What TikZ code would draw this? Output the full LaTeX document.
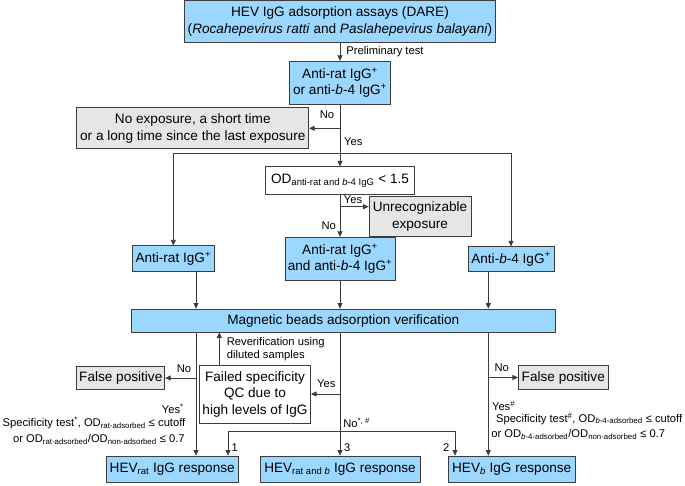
\documentclass[tikz,border=0pt]{standalone}
\usepackage{fontspec}
\setmainfont{Liberation Sans}
\usepackage{tikz}
\usetikzlibrary{arrows.meta,positioning}
\definecolor{boxblue}{RGB}{155,215,255}
\definecolor{boxgray}{RGB}{230,230,230}
\definecolor{edgegray}{RGB}{60,60,60}

\begin{document}
\begin{tikzpicture}[x=1pt,y=-1pt,>={Triangle[length=5.5pt,width=5pt]},
            line width=0.7pt,draw=edgegray,
            font=\fontsize{13.6}{16.5}\selectfont,
            bluebox/.style={draw=edgegray,fill=boxblue,inner sep=0pt,align=center},
            graybox/.style={draw=edgegray,fill=boxgray,inner sep=0pt,align=center},
            whitebox/.style={draw=edgegray,fill=white,inner sep=0pt,align=center},
            lbl/.style={inner sep=0pt,font=\fontsize{11.2}{13}\selectfont}]
            \useasboundingbox (0,0) rectangle (685,485);

            % Define the boxes
            \node[bluebox,minimum width=311pt,minimum height=42pt] (dare) at (340,21.4)
                {HEV IgG adsorption assays (DARE)\\(\textit{Rocahepevirus ratti} and \textit{Paslahepevirus balayani})};
            \node[bluebox,minimum width=101pt,minimum height=43pt] (pre) at (340,82.7)
                {Anti-rat IgG\textsuperscript{+}\\or anti-\textit{b}-4 IgG\textsuperscript{+}};
            \node[graybox,minimum width=232pt,minimum height=41pt] (noexp) at (192.8,128.3)
                {No exposure, a short time\\or a long time since the last exposure};
            \node[whitebox,minimum width=149pt,minimum height=27.6pt] (od) at (340,180.5)
                {OD\textsubscript{anti-rat and \textit{b}-4 IgG} < 1.5};
            \node[graybox,minimum width=102pt,minimum height=40.7pt] (unrec) at (420,216.3)
                {Unrecognizable\\exposure};
            \node[bluebox,minimum width=110pt,minimum height=43pt] (both) at (340,258.7)
                {Anti-rat IgG\textsuperscript{+}\\and anti-\textit{b}-4 IgG\textsuperscript{+}};
            \node[bluebox,minimum width=82pt,minimum height=26pt] (rat) at (173.3,258.8)
                {Anti-rat IgG\textsuperscript{+}};
            \node[bluebox,minimum width=86pt,minimum height=25pt] (bfour) at (511,259.2)
                {Anti-\textit{b}-4 IgG\textsuperscript{+}};
            \node[bluebox,minimum width=424.7pt,minimum height=23pt] (mag) at (343.3,320.5)
                {Magnetic beads adsorption verification};
            \node[graybox,minimum width=88pt,minimum height=23.3pt] (fpl) at (120.8,378)
                {False positive};
            \node[whitebox,minimum width=111.4pt,minimum height=58.3pt] (failed) at (255,394)
                {Failed specificity\\QC due to\\high levels of IgG};
            \node[graybox,minimum width=90pt,minimum height=24pt] (fpr) at (563.3,377.5)
                {False positive};
            \node[bluebox,minimum width=132pt,minimum height=26pt] (hevrat) at (172.2,469)
                {HEV\textsubscript{rat} IgG response};
            \node[bluebox,minimum width=160pt,minimum height=26pt] (hevboth) at (340,469)
                {HEV\textsubscript{rat and \textit{b}} IgG response};
            \node[bluebox,minimum width=127pt,minimum height=26pt] (hevb) at (511.7,469)
                {HEV\textsubscript{\textit{b}} IgG response};

            % Branch points and columns
            \coordinate (sp) at (340,153.3);
            \coordinate (uy) at (340,206.7);
            \coordinate (nsp) at (340,431);
            \coordinate (colL) at (196,0);
            \coordinate (colF) at (219.3,0);
            \coordinate (colR) at (488.3,0);
            \coordinate (colOne) at (228,0);
            \coordinate (colTwo) at (455,0);

            % Connect the boxes with arrows
            \draw[->] (dare) -- (pre);
            \draw[->] (pre) -- (od);
            \draw[->] (pre.south |- noexp.east) -- (noexp.east);
            \draw[->] (sp) -| (rat.north);
            \draw[->] (sp) -| (bfour.north);
            \draw[->] (od) -- (both);
            \draw[->] (uy) -- (unrec.west |- uy);
            \draw[->] (rat.south -| colL) -- (mag.north -| colL);
            \draw[->] (both) -- (mag.north -| both.south);
            \draw[->] (bfour.south -| colR) -- (mag.north -| colR);

            \draw[->] (mag.south -| colL) -- (hevrat.north -| colL);
            \draw[->] (fpl.east -| colL) -- (fpl.east);
            \draw[->] (failed.north -| colF) -- (mag.south -| colF);
            \draw[->] (mag.south -| hevboth.north) -- (hevboth.north);
            \draw[->] (failed.east -| hevboth.north) -- (failed.east);
            \draw[->] (nsp) -| (hevrat.north -| colOne);
            \draw[->] (nsp) -| (hevb.north -| colTwo);
            \draw[->] (mag.south -| colR) -- (hevb.north -| colR);
            \draw[->] (fpr.west -| colR) -- (fpr.west);

            % Labels on the arrows
            \node[lbl,anchor=west] (lpre) at (346,52) {Preliminary test};
            \node[lbl] (lno1) at (327,114.5) {No};
            \node[lbl] (lyes1) at (353.3,141.7) {Yes};
            \node[lbl] (lyes2) at (353,199.5) {Yes};
            \node[lbl] (lno2) at (328.8,226) {No};
            \node[lbl,anchor=west,align=left] (lrev) at (226.5,348.7)
                {Reverification using\\diluted samples};
            \node[lbl] (lno3) at (184,368.3) {No};
            \node[lbl] (lyes3) at (326.3,384) {Yes};
            \node[lbl,anchor=west] (lno4) at (494.3,367.7) {No};
            \node[lbl,anchor=west] (lnoboth) at (343,422.7) {No\textsuperscript{*, \#}};
            \node[lbl] (lone) at (234.7,448) {1};
            \node[lbl] (lthree) at (347.3,448) {3};
            \node[lbl] (ltwo) at (446.3,448) {2};

            % Criteria texts
            \node[lbl,anchor=east] (lyesl) at (184,409) {Yes\textsuperscript{*}};
            \node[lbl,anchor=east] (lspecl) at (185.7,423)
                {Specificity test\textsuperscript{*}, OD\textsubscript{rat-adsorbed} ≤ cutoff};
            \node[lbl,anchor=east] (lorl) at (185,439.5)
                {or OD\textsubscript{rat-adsorbed}/OD\textsubscript{non-adsorbed} ≤ 0.7};
            \node[lbl,anchor=west] (lyesr) at (491.7,405.7) {Yes\textsuperscript{\#}};
            \node[lbl,anchor=west] (lspecr) at (495.7,418.5)
                {Specificity test\textsuperscript{\#}, OD\textsubscript{\textit{b}-4-adsorbed} ≤ cutoff};
            \node[lbl,anchor=west] (lorr) at (491,434.5)
                {or OD\textsubscript{\textit{b}-4-adsorbed}/OD\textsubscript{non-adsorbed} ≤ 0.7};
\end{tikzpicture}
\end{document}
